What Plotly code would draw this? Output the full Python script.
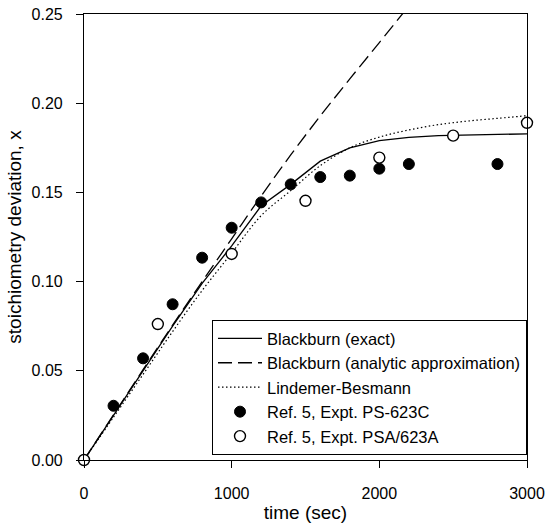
import plotly.graph_objects as go

# Model curves (time in sec, stoichiometry deviation x)
t_model = [0, 200, 400, 600, 800, 1000, 1200, 1400, 1600, 1800, 2000, 2200, 2400, 2600, 2800, 3000]
blackburn_exact = [0.0, 0.0250, 0.0500, 0.0750, 0.0990, 0.1200, 0.1425, 0.1545, 0.1675, 0.1750,
                   0.1790, 0.1808, 0.1818, 0.1822, 0.1825, 0.1828]
lindemer_besmann = [0.0, 0.0240, 0.0480, 0.0720, 0.0950, 0.1160, 0.1370, 0.1510, 0.1650, 0.1750,
                    0.1810, 0.1850, 0.1880, 0.1900, 0.1915, 0.1930]

t_approx = [0, 200, 400, 600, 800, 1000, 1200, 1400, 1600, 1800, 2000, 2200]
blackburn_approx = [0.0, 0.0254, 0.0506, 0.0756, 0.1000, 0.1240, 0.1480, 0.1710, 0.1928, 0.2136,
                    0.2340, 0.2545]

# Experimental data
t_ps623c = [200, 400, 600, 800, 1000, 1200, 1400, 1600, 1800, 2000, 2200, 2800]
x_ps623c = [0.0304, 0.0570, 0.0873, 0.1134, 0.1302, 0.1444, 0.1545, 0.1586, 0.1594, 0.1633,
            0.1659, 0.1659]
t_psa623a = [0, 500, 1000, 1500, 2000, 2500, 3000]
x_psa623a = [0.0, 0.0762, 0.1155, 0.1453, 0.1695, 0.1818, 0.1890]

x_ticks = [0, 1000, 2000, 3000]
y_ticks = [0.00, 0.05, 0.10, 0.15, 0.20, 0.25]

fig = go.Figure()
fig.add_trace(go.Scatter(x=t_model, y=blackburn_exact, mode="lines",
                         name="Blackburn (exact)",
                         line=dict(color="black", width=1.3)))
fig.add_trace(go.Scatter(x=t_approx, y=blackburn_approx, mode="lines",
                         name="Blackburn (analytic approximation)",
                         line=dict(color="black", width=1.3, dash="14px,6px", shape="spline")))
fig.add_trace(go.Scatter(x=t_model, y=lindemer_besmann, mode="lines",
                         name="Lindemer-Besmann",
                         line=dict(color="black", width=1.2, dash="1.5px,2.5px", shape="spline")))
fig.add_trace(go.Scatter(x=t_ps623c, y=x_ps623c, mode="markers",
                         name="Ref. 5, Expt. PS-623C", cliponaxis=False,
                         marker=dict(symbol="circle", size=11, color="black",
                                     line=dict(color="black", width=1))))
fig.add_trace(go.Scatter(x=t_psa623a, y=x_psa623a, mode="markers",
                         name="Ref. 5, Expt. PSA/623A", cliponaxis=False,
                         marker=dict(symbol="circle", size=11, color="white",
                                     line=dict(color="black", width=1.4))))

font_family = "Liberation Sans, Arial, sans-serif"
fig.update_layout(
    width=549, height=532,
    margin=dict(l=84, r=22, t=14, b=72),
    paper_bgcolor="white", plot_bgcolor="white",
    font=dict(family=font_family, size=16, color="black"),
    showlegend=True,
    legend=dict(x=1, y=0.011, xanchor="right", yanchor="bottom",
                bgcolor="white", bordercolor="black", borderwidth=1,
                font=dict(size=16.5, color="black"), itemwidth=44,
                tracegroupgap=0),
    xaxis=dict(range=[0, 3000], tickvals=x_ticks, tickformat="d", automargin=False,
               showgrid=False, zeroline=False, showline=True, linecolor="black",
               linewidth=1.2, mirror=True, ticks="outside", ticklen=7,
               tickcolor="black", tickwidth=1.2, ticklabelstandoff=12,
               title=dict(text="time (sec)", standoff=4)),
    yaxis=dict(range=[0, 0.25], tickvals=y_ticks, tickformat=".2f", automargin=False,
               showgrid=False, zeroline=False, showline=True, linecolor="black",
               linewidth=1.2, mirror=True, ticks="outside", ticklen=7,
               tickcolor="black", tickwidth=1.2, ticklabelstandoff=10,
               title=dict(text="stoichiometry deviation, x", standoff=4)),
)

# remove the browser's default 8px body margin so the figure sits at the window origin
fig.write_html("out.html", config={"displayModeBar": False},
               post_script="document.body.style.margin='0';")
